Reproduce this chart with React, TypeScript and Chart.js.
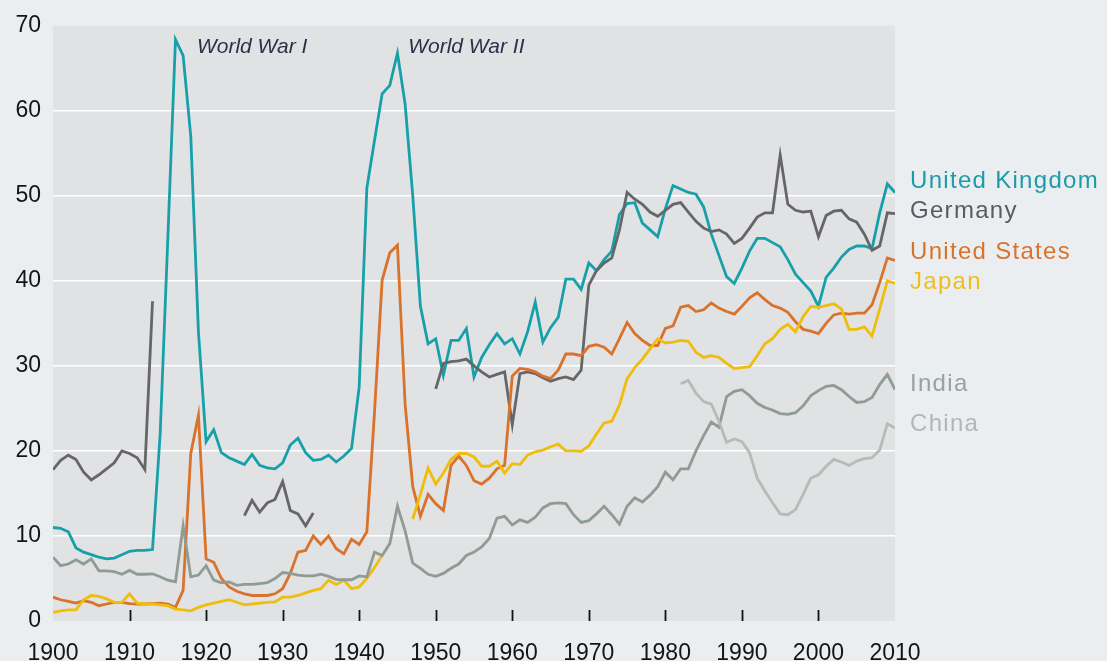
import React, { useEffect, useRef } from "react";
import { Chart, registerables } from "chart.js";

Chart.register(...registerables);

const years = [
  1900, 1901, 1902, 1903, 1904, 1905, 1906, 1907, 1908, 1909,
  1910, 1911, 1912, 1913, 1914, 1915, 1916, 1917, 1918, 1919,
  1920, 1921, 1922, 1923, 1924, 1925, 1926, 1927, 1928, 1929,
  1930, 1931, 1932, 1933, 1934, 1935, 1936, 1937, 1938, 1939,
  1940, 1941, 1942, 1943, 1944, 1945, 1946, 1947, 1948, 1949,
  1950, 1951, 1952, 1953, 1954, 1955, 1956, 1957, 1958, 1959,
  1960, 1961, 1962, 1963, 1964, 1965, 1966, 1967, 1968, 1969,
  1970, 1971, 1972, 1973, 1974, 1975, 1976, 1977, 1978, 1979,
  1980, 1981, 1982, 1983, 1984, 1985, 1986, 1987, 1988, 1989,
  1990, 1991, 1992, 1993, 1994, 1995, 1996, 1997, 1998, 1999,
  2000, 2001, 2002, 2003, 2004, 2005, 2006, 2007, 2008, 2009,
  2010,
];

const unitedKingdom = [
  11.0, 10.9, 10.5, 8.6, 8.1, 7.8, 7.5, 7.3, 7.4, 7.8,
  8.2, 8.3, 8.3, 8.4, 22.0, 45.0, 68.4, 66.5, 57.0, 34.0,
  21.1, 22.5, 19.8, 19.2, 18.8, 18.4, 19.6, 18.3, 18.0, 17.9,
  18.6, 20.7, 21.5, 19.8, 18.9, 19.0, 19.5, 18.7, 19.4, 20.3,
  27.5, 50.9, 56.5, 62.0, 63.0, 66.8, 60.8, 50.0, 37.0, 32.6,
  33.2, 28.9, 33.0, 33.0, 34.4, 28.7, 31.0, 32.5, 33.8, 32.6,
  33.2, 31.4, 34.0, 37.5, 32.8, 34.5, 35.7, 40.2, 40.2, 39.0,
  42.1, 41.2, 42.5, 43.5, 47.8, 49.1, 49.2, 46.8, 46.0, 45.2,
  48.5, 51.2, 50.8, 50.4, 50.2, 48.7, 45.5, 43.0, 40.5, 39.7,
  41.5, 43.5, 45.0, 45.0, 44.5, 44.0, 42.5, 40.8, 39.8, 38.8,
  37.0, 40.4, 41.5, 42.8, 43.7, 44.1, 44.1, 43.8, 48.0, 51.4,
  50.4,
];

const germany = [
  17.8, 18.9, 19.5, 19.0, 17.5, 16.6, 17.2, 17.9, 18.6, 20.0,
  19.7, 19.2, 17.8, 37.6, null, null, null, null, null, null,
  null, null, null, null, null, 12.4, 14.2, 12.8, 13.9, 14.3,
  16.4, 13.0, 12.6, 11.2, 12.7, null, null, null, null, null,
  null, null, null, null, null, null, null, null, null, null,
  27.3, 30.3, 30.5, 30.6, 30.8, 30.0, 29.3, 28.7, 29.0, 29.3,
  23.1, 29.1, 29.3, 29.1, 28.6, 28.2, 28.5, 28.7, 28.4, 29.5,
  39.5, 41.2, 42.1, 42.7, 46.0, 50.4, 49.6, 49.0, 48.1, 47.6,
  48.3, 49.0, 49.2, 48.1, 47.0, 46.2, 45.8, 46.0, 45.5, 44.4,
  45.0, 46.2, 47.5, 48.0, 48.0, 54.8, 49.0, 48.3, 48.1, 48.2,
  45.2, 47.7, 48.2, 48.3, 47.3, 46.9, 45.5, 43.6, 44.1, 48.0,
  47.9,
];

const unitedStates = [
  2.8, 2.5, 2.3, 2.1, 2.4, 2.2, 1.8, 2.0, 2.2, 2.2,
  2.05, 2.0, 2.0, 2.05, 2.1, 2.0, 1.6, 3.6, 19.7, 24.2,
  7.3, 6.9, 5.0, 4.0, 3.5, 3.2, 3.0, 3.0, 3.0, 3.2,
  3.8, 5.6, 8.1, 8.3, 10.0, 9.0, 10.0, 8.5, 7.9, 9.6,
  9.0, 10.5, 24.5, 40.1, 43.3, 44.2, 25.5, 15.8, 12.3, 14.9,
  13.8, 13.0, 18.3, 19.4, 18.3, 16.5, 16.1, 16.8, 17.9, 18.3,
  28.8, 29.7, 29.6, 29.3, 28.8, 28.5, 29.5, 31.4, 31.4, 31.2,
  32.3, 32.5, 32.2, 31.4, 33.2, 35.1, 33.8, 33.0, 32.4, 32.4,
  34.4, 34.7, 36.9, 37.1, 36.4, 36.6, 37.4, 36.8, 36.4, 36.1,
  37.0, 38.0, 38.6, 37.8, 37.1, 36.8, 36.3, 35.2, 34.3, 34.1,
  33.8, 35.0, 36.0, 36.2, 36.1, 36.2, 36.2, 37.2, 39.8, 42.7,
  42.4,
];

const japan = [
  1.0, 1.2, 1.3, 1.3, 2.5, 3.0, 2.9, 2.6, 2.2, 2.2,
  3.2, 2.1, 2.0, 2.0, 1.9, 1.8, 1.4, 1.3, 1.2, 1.6,
  1.9, 2.1, 2.3, 2.5, 2.2, 1.9, 2.0, 2.1, 2.2, 2.25,
  2.8, 2.8, 3.0, 3.3, 3.6, 3.8, 4.8, 4.3, 4.8, 3.8,
  4.0, 5.0, 6.3, 7.7, null, null, null, 12.0, 14.9, 18.0,
  16.1, 17.4, 19.0, 19.7, 19.7, 19.3, 18.2, 18.2, 18.8, 17.4,
  18.5, 18.4, 19.5, 19.9, 20.1, 20.5, 20.8, 20.0, 20.0, 19.95,
  20.6, 22.0, 23.3, 23.5, 25.4, 28.5, 29.8, 30.8, 32.0, 33.2,
  32.7, 32.8, 33.0, 32.9, 31.6, 31.0, 31.2, 31.0, 30.3, 29.7,
  29.8, 29.9, 31.2, 32.6, 33.2, 34.3, 34.9, 34.0, 35.8, 37.0,
  36.9, 37.1, 37.3, 36.7, 34.3, 34.3, 34.6, 33.5, 36.7, 40.0,
  39.7,
];

const india = [
  7.5, 6.5, 6.7, 7.2, 6.7, 7.3, 5.9, 5.9, 5.8, 5.5,
  5.95, 5.5, 5.5, 5.55, 5.2, 4.8, 4.6, 11.2, 5.2, 5.4,
  6.5, 4.8, 4.5, 4.6, 4.2, 4.3, 4.3, 4.4, 4.5, 5.0,
  5.7, 5.6, 5.4, 5.3, 5.3, 5.5, 5.25, 4.9, 4.85, 4.85,
  5.3, 5.2, 8.1, 7.7, 9.1, 13.5, 10.6, 6.8, 6.2, 5.5,
  5.25, 5.6, 6.2, 6.7, 7.7, 8.1, 8.7, 9.7, 12.1, 12.3,
  11.3, 11.9, 11.6, 12.2, 13.3, 13.8, 13.9, 13.8, 12.5, 11.6,
  11.8, 12.6, 13.5, 12.5, 11.4, 13.5, 14.5, 14.0, 14.8, 15.8,
  17.5, 16.6, 17.9, 17.9, 20.0, 21.8, 23.4, 22.8, 26.4, 27.0,
  27.2, 26.5, 25.6, 25.1, 24.8, 24.4, 24.3, 24.5, 25.3, 26.5,
  27.1, 27.6, 27.7, 27.2, 26.4, 25.7, 25.8, 26.3, 27.8, 29.0,
  27.2,
];

const china = [
  null, null, null, null, null, null, null, null, null, null,
  null, null, null, null, null, null, null, null, null, null,
  null, null, null, null, null, null, null, null, null, null,
  null, null, null, null, null, null, null, null, null, null,
  null, null, null, null, null, null, null, null, null, null,
  null, null, null, null, null, null, null, null, null, null,
  null, null, null, null, null, null, null, null, null, null,
  null, null, null, null, null, null, null, null, null, null,
  null, null, 27.9, 28.3, 26.8, 25.8, 25.5, 23.5, 21.0, 21.4,
  21.1, 19.8, 16.8, 15.3, 13.9, 12.6, 12.5, 13.1, 14.9, 16.8,
  17.2, 18.2, 19.0, 18.7, 18.3, 18.8, 19.1, 19.2, 20.1, 23.2,
  22.7,
];

const seriesNames = ["China", "India", "Japan", "United States", "Germany", "United Kingdom"];
const seriesValues = [china, india, japan, unitedStates, germany, unitedKingdom];
const seriesColors = ["#b6bbb8", "#8f9b95", "#efbd0c", "#d9722a", "#666668", "#18a0aa"];
const labelColors = ["#b2b7b5", "#98a29e", "#f0be1a", "#d9732c", "#5a5a62", "#1d9ba8"];
const labelNudges = [3.5, 1.5, 6, -1, 4.5, -4];

const annotationTexts = ["World War I", "World War II"];
const annotationYears = [1918.8, 1946.4];

const xTickMarks = [1910, 1920, 1930, 1940, 1950, 1960, 1970, 1980, 1990, 2000];

const FONT = '"Liberation Sans", Arial, sans-serif';

export default function App() {
  const ref = useRef<HTMLCanvasElement | null>(null);

  useEffect(() => {
    document.body.style.margin = "0";
    document.body.style.background = "#eaeef0";
    const canvas = ref.current;
    if (!canvas) return;

    const decor = {
      id: "decor",
      beforeDraw(chart: any) {
        const { ctx, chartArea: a } = chart;
        ctx.save();
        ctx.fillStyle = "#eaeef0";
        ctx.fillRect(0, 0, chart.width, chart.height);
        ctx.fillStyle = "#e1e2e4";
        ctx.fillRect(a.left, a.top, a.right - a.left, a.bottom - a.top);
        ctx.restore();
      },
      afterDatasetsDraw(chart: any) {
        const { ctx, chartArea: a } = chart;
        const xs = chart.scales.x;
        const ys = chart.scales.y;
        ctx.save();
        ctx.strokeStyle = "#111111";
        ctx.lineWidth = 1.8;
        xTickMarks.forEach((yr) => {
          const px = Math.round(xs.getPixelForValue(yr)) + 0.5;
          ctx.beginPath();
          ctx.moveTo(px, a.bottom - 11);
          ctx.lineTo(px, a.bottom);
          ctx.stroke();
        });
        ctx.font = `italic 21px ${FONT}`;
        ctx.fillStyle = "#2e2f4a";
        ctx.textBaseline = "alphabetic";
        ctx.textAlign = "left";
        annotationTexts.forEach((t, i) => {
          ctx.fillText(t, xs.getPixelForValue(annotationYears[i]), a.top + 27);
        });
        ctx.font = `24px ${FONT}`;
        (ctx as any).letterSpacing = "1.3px";
        seriesNames.forEach((name, i) => {
          const vals = seriesValues[i];
          const last = vals[vals.length - 1] as number;
          const py = ys.getPixelForValue(last) + labelNudges[i];
          ctx.fillStyle = labelColors[i];
          ctx.fillText(name, a.right + 15, py);
        });
        ctx.restore();
      },
    };

    const chart = new Chart(canvas, {
      type: "line",
      data: {
        datasets: seriesNames.map((name, i) => ({
          label: name,
          data: years.map((yr, j) => ({ x: yr, y: seriesValues[i][j] })),
          borderColor: seriesColors[i],
          backgroundColor: seriesColors[i],
          borderWidth: 2.8,
          pointRadius: 0,
          tension: 0,
          spanGaps: false,
          fill: false,
        })),
      },
      options: {
        responsive: false,
        animation: false,
        layout: { padding: { top: 21, right: 212, bottom: 0, left: 0 } },
        plugins: { legend: { display: false }, tooltip: { enabled: false } },
        scales: {
          x: {
            type: "linear",
            min: 1900,
            max: 2010,
            grid: { display: false },
            border: { display: false },
            ticks: {
              stepSize: 10,
              autoSkip: false,
              maxRotation: 0,
              padding: 11,
              color: "#141414",
              font: { family: FONT, size: 23 },
              callback: (v: any) => String(v),
            },
            afterFit: (s: any) => {
              s.height = 40;
            },
          },
          y: {
            min: 0,
            max: 70,
            border: { display: false },
            grid: {
              drawTicks: false,
              lineWidth: 1.6,
              color: (c: any) =>
                c.tick && (c.tick.value === 0 || c.tick.value === 70) ? "rgba(0,0,0,0)" : "#ffffff",
            },
            ticks: {
              stepSize: 10,
              padding: 12,
              color: "#141414",
              font: { family: FONT, size: 23 },
            },
            afterFit: (s: any) => {
              s.width = 53;
            },
          },
        },
      },
      plugins: [decor],
    });

    return () => chart.destroy();
  }, []);

  return <canvas ref={ref} width={1107} height={661} style={{ display: "block" }} />;
}
